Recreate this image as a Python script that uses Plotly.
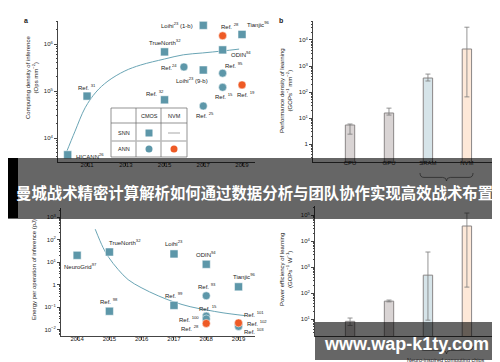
import numpy as np
import plotly.graph_objects as go

W, H = 500, 362
FONT = "Arial, Liberation Sans, Helvetica, sans-serif"
TEAL = "#5d97a9"
ORANGE = "#ee5a25"
AX = "#444444"

# ---------------- data ----------------
# panel a: computing density of inference (Ops mm^-2)
a_snn_year = [2010, 2011, 2015, 2015, 2017, 2017, 2018, 2019]
a_snn_val = [4400, 78000, 680000, 65000, 2.5e6, 280000, 750000, 1.6e6]
a_snn_name = ["HICANN<sup>26</sup>", "Ref. <sup>31</sup>", "TrueNorth<sup>32</sup>", "Ref. <sup>32</sup>",
              "Loihi<sup>23</sup> (1-b)", "Loihi<sup>23</sup> (9-b)", "ODIN<sup>94</sup>", "Tianjic<sup>96</sup>"]
a_cmos_year = [2016, 2017, 2018, 2018]
a_cmos_val = [325000, 48000, 240000, 120000]
a_cmos_name = ["Ref.<sup>24</sup>", "Ref. <sup>25</sup>", "Ref. <sup>95</sup>", "Ref. <sup>15</sup>"]
a_nvm_year = [2018, 2019]
a_nvm_val = [1.5e6, 135000]
a_nvm_name = ["Ref. <sup>28</sup>", "Ref. <sup>19</sup>"]
a_fit_year = [2009.92, 2010.38, 2010.9, 2011.46, 2012.08, 2012.95, 2013.77, 2015.0, 2015.97, 2016.95, 2017.97, 2018.85]
a_fit_val = [4800, 14000, 44000, 95000, 163000, 267000, 358000, 480000, 590000, 645000, 710000, 780000]
a_xticks = [2011, 2013, 2015, 2017, 2019]

# panel b / d: bars
chips = ["CPU", "GPU", "SRAM", "NVM"]
b_val = [5.4, 15.6, 345, 4500]
b_hi = [5.9, 24, 490, 31000]
b_lo = [2.4, 13, 265, 65]
d_val = [8.2, 49, 490, 38000]
d_hi = [11, 54, 3800, 120000]
d_lo = [5.7, 46, 9.1, 170]
bar_fill = ["#d9d4d4", "#d9d4d4", "#d6e4e9", "#fde8d8"]

# panel c: energy per operation of inference (pJ)
c_snn_year = [2014, 2015, 2015, 2017, 2017, 2018, 2019]
c_snn_val = [20, 28, 0.066, 23, 0.12, 8, 0.8]
c_snn_name = ["NeuroGrid<sup>97</sup>", "TrueNorth<sup>32</sup>", "Ref. <sup>98</sup>", "Loihi<sup>23</sup>",
              "Ref. <sup>99</sup>", "ODIN<sup>94</sup>", "Tianjic<sup>96</sup>"]
c_cmos_year = [2018, 2018, 2018, 2019, 2019]
c_cmos_val = [0.32, 0.04, 0.03, 0.018, 0.014]
c_cmos_name = ["Ref. <sup>93</sup>", "Ref. <sup>15</sup>", "Ref. <sup>100</sup>", "Ref. <sup>101</sup>", "Ref. <sup>103</sup>"]
c_nvm_year = [2018, 2019]
c_nvm_val = [0.019, 0.020]
c_nvm_name = ["Ref. <sup>28</sup>", "Ref. <sup>102</sup>"]
c_fit_year = [2014.56, 2014.8, 2014.98, 2015.27, 2015.58, 2015.98, 2016.51, 2017.0, 2017.5, 2017.99, 2018.52, 2019.2]
c_fit_val = [288, 45, 16, 4.7, 1.66, 0.74, 0.32, 0.17, 0.105, 0.076, 0.056, 0.042]
c_xticks = [2014, 2015, 2016, 2017, 2018, 2019]

# label placements (pixel offsets: dx, dy up, anchor)
a_snn_off = [(6, -1, "left"), (0, 9, "center"), (0, 10, "center"), (-10, 7, "center"),
             (-8, 0, "right"), (-11, -10, "center"), (6, -4, "left"), (3, 10, "left")]
a_cmos_off = [(-5, 0, "right"), (2, -9, "center"), (11, 8, "center"), (1, -9, "center")]
a_nvm_off = [(7, 10, "center"), (4, -9, "center")]
c_snn_off = [(3, -11, "center"), (-2, 10, "left"), (0, 10, "center"), (0, 11, "center"),
             (0, 10, "center"), (0, 10, "center"), (5, 11, "center")]
c_cmos_off = [(1, 10, "center"), (2, 8, "center"), (-5, 0, "right"), (3, 10, "left"), (3, -5, "left")]
c_nvm_off = [(-5, -5, "right"), (6, 0, "left")]


def X(px):
    return px / W


def Y(py):
    return 1 - py / H


def minor_vals(lo, hi):
    return [m * 10.0 ** k for k in range(lo, hi) for m in range(2, 10)]


def sup(k):
    return "1" if k == 0 else "10<sup>%d</sup>" % k if k > 0 else "10<sup>\u2212%d</sup>" % (-k)


fig = go.Figure()

# ---- panel a traces
fig.add_trace(go.Scatter(x=a_fit_year, y=a_fit_val, mode="lines", line=dict(color="#6aa5b5", width=1, shape="spline"),
                         xaxis="x", yaxis="y", hoverinfo="skip"))
fig.add_trace(go.Scatter(x=a_snn_year, y=a_snn_val, mode="markers",
                         marker=dict(symbol="square", size=8, color=TEAL, line=dict(color="white", width=0.5)),
                         xaxis="x", yaxis="y"))
fig.add_trace(go.Scatter(x=a_cmos_year, y=a_cmos_val, mode="markers",
                         marker=dict(symbol="circle", size=8, color=TEAL, line=dict(color="white", width=0.5)),
                         xaxis="x", yaxis="y"))
fig.add_trace(go.Scatter(x=a_nvm_year, y=a_nvm_val, mode="markers",
                         marker=dict(symbol="circle", size=8, color=ORANGE, line=dict(color="white", width=0.5)),
                         xaxis="x", yaxis="y"))

# ---- panel c traces
fig.add_trace(go.Scatter(x=c_fit_year, y=c_fit_val, mode="lines", line=dict(color="#6aa5b5", width=1, shape="spline"),
                         xaxis="x3", yaxis="y3", hoverinfo="skip"))
fig.add_trace(go.Scatter(x=c_snn_year, y=c_snn_val, mode="markers",
                         marker=dict(symbol="square", size=8, color=TEAL, line=dict(color="white", width=0.5)),
                         xaxis="x3", yaxis="y3"))
fig.add_trace(go.Scatter(x=c_cmos_year, y=c_cmos_val, mode="markers",
                         marker=dict(symbol="circle", size=8, color=TEAL, line=dict(color="white", width=0.5)),
                         xaxis="x3", yaxis="y3"))
fig.add_trace(go.Scatter(x=c_nvm_year, y=c_nvm_val, mode="markers",
                         marker=dict(symbol="circle", size=8, color=ORANGE, line=dict(color="white", width=0.5)),
                         xaxis="x3", yaxis="y3"))

# ---- bar panels
for vals, hi, lo, xa, ya in [(b_val, b_hi, b_lo, "x2", "y2"), (d_val, d_hi, d_lo, "x4", "y4")]:
    fig.add_trace(go.Bar(x=chips, y=vals, width=0.24, marker=dict(color=bar_fill, line=dict(color="#8a8686", width=1)),
                         error_y=dict(type="data", symmetric=False,
                                      array=[h - v for h, v in zip(hi, vals)],
                                      arrayminus=[v - l for v, l in zip(vals, lo)],
                                      color="#7a7a7a", thickness=0.8, width=2.5),
                         xaxis=xa, yaxis=ya))

base_ax = dict(showline=True, linecolor=AX, linewidth=0.8, ticks="outside", ticklen=3, tickwidth=0.7,
               tickcolor=AX, showgrid=False, zeroline=False, tickfont=dict(size=6, color="#222", family=FONT))

def log_axis(domain, rng, kmin, kmax):
    d = dict(base_ax, type="log", domain=domain, range=rng,
             tickvals=[10.0 ** k for k in range(kmin, kmax + 1)],
             ticktext=[sup(k) for k in range(kmin, kmax + 1)],
             minor=dict(tickvals=minor_vals(kmin - 1, kmax + 1), ticks="outside", ticklen=1.6,
                        tickcolor=AX, tickwidth=0.5))
    return d

fig.update_layout(
    width=W, height=H, margin=dict(l=0, r=0, t=0, b=0), showlegend=False,
    paper_bgcolor="white", plot_bgcolor="white", font=dict(family=FONT, size=6, color="#222"),
    xaxis=dict(base_ax, domain=[X(50), X(247)], range=[2009.5, 2019.67], tickvals=a_xticks, anchor="y",
               ticklabelstandoff=-6),
    yaxis=dict(log_axis([Y(154), Y(13)], [3.49, 6.49], 4, 6), anchor="x"),
    xaxis2=dict(base_ax, domain=[X(305), X(485)], range=[-0.95, 3.67], ticks="", anchor="y2",
                ticklabelstandoff=-5),
    yaxis2=dict(log_axis([Y(154), Y(13)], [-0.69, 4.73], 0, 4), anchor="x2"),
    xaxis3=dict(base_ax, domain=[X(53), X(247)], range=[2013.5, 2019.51], tickvals=c_xticks, anchor="y3",
                ticklabelstandoff=-6),
    yaxis3=dict(log_axis([Y(328), Y(200)], [-2.28, 3.4], -2, 3), anchor="x3"),
    xaxis4=dict(base_ax, domain=[X(307), X(485)], range=[-0.9, 3.67], ticks="", anchor="y4",
                showticklabels=False),
    yaxis4=dict(log_axis([Y(328), Y(198)], [0.35, 5.35], 1, 5), anchor="x4"),
)

ann = []

def point_labels(xs, vs, names, offs, xr, yr):
    for x, v, n, (dx, dy, anc) in zip(xs, vs, names, offs):
        ann.append(dict(x=x, y=np.log10(v), xref=xr, yref=yr, text=n, showarrow=False,
                        xanchor=anc, yanchor="middle", xshift=dx, yshift=dy,
                        font=dict(size=6, color="#222", family=FONT)))

point_labels(a_snn_year, a_snn_val, a_snn_name, a_snn_off, "x", "y")
point_labels(a_cmos_year, a_cmos_val, a_cmos_name, a_cmos_off, "x", "y")
point_labels(a_nvm_year, a_nvm_val, a_nvm_name, a_nvm_off, "x", "y")
point_labels(c_snn_year, c_snn_val, c_snn_name, c_snn_off, "x3", "y3")
point_labels(c_cmos_year, c_cmos_val, c_cmos_name, c_cmos_off, "x3", "y3")
point_labels(c_nvm_year, c_nvm_val, c_nvm_name, c_nvm_off, "x3", "y3")

def ptext(px, py, text, size=6, angle=0, color="#222", bold=False, family=FONT, anchor="center"):
    if bold:
        text = "<b>%s</b>" % text
    ann.append(dict(x=X(px), y=Y(py), xref="paper", yref="paper", text=text, showarrow=False,
                    xanchor=anchor, yanchor="middle", textangle=angle, borderpad=0,
                    font=dict(size=size, color=color, family=family)))

# panel letters
ptext(18, 13, "a", size=7, bold=True)
ptext(273, 13, "b", size=7, bold=True)

# axis titles
ptext(24, 70, "Computing density of inference<br>(Ops mm<sup>\u22122</sup>)", angle=-90)
ptext(278, 83, "Performance density of learning<br>(GOPs<sup>\u22121</sup> mm<sup>\u22122</sup>)", angle=-90)
ptext(26, 262, "Energy per operation of inference (pJ)", angle=-90)
ptext(278, 262, "Power efficiency of learning<br>(GOPs<sup>\u22121</sup> W<sup>\u22121</sup>)", angle=-90)

# legend table text
ptext(141, 108, "CMOS", size=5.5)
ptext(166, 108, "NVM", size=5.5)
ptext(116, 125, "SNN", size=5.5)
ptext(116, 141, "ANN", size=5.5)

# brace label panel d
ptext(438, 352, "Neuro-inspired computing chips", size=5.5)

# overlay texts
ptext(246, 184, "曼城战术精密计算解析如何通过数据分析与团队协作实现高效战术布置", size=15.4, color="white",
      bold=True, family="Noto Sans CJK SC, sans-serif")
ptext(398, 336, "www.wap-k1ty.com", size=18, color="white", bold=True,
      family="Arial, Liberation Sans, sans-serif")

fig.update_layout(annotations=ann)

shapes = []

def rect(x0, y0, x1, y1, **kw):
    shapes.append(dict(type="rect", xref="paper", yref="paper", x0=X(x0), x1=X(x1), y0=Y(y1), y1=Y(y0),
                       layer="above", **kw))

def line(x0, y0, x1, y1, color, width):
    shapes.append(dict(type="line", xref="paper", yref="paper", x0=X(x0), x1=X(x1), y0=Y(y0), y1=Y(y1),
                       line=dict(color=color, width=width), layer="above"))

# legend table grid
rect(103, 100, 179, 149, line=dict(color="#666", width=0.7), fillcolor="rgba(255,255,255,1)")
line(128, 100, 128, 149, "#666", 0.7)
line(153, 100, 153, 149, "#666", 0.7)
line(103, 115, 179, 115, "#666", 0.7)
line(103, 133, 179, 133, "#bbbbbb", 1.6)
rect(137.5, 121.5, 144.5, 128.5, line=dict(width=0), fillcolor=TEAL)
line(160, 125, 172, 125, "#c4c4c4", 1.5)
shapes.append(dict(type="circle", xref="paper", yref="paper", x0=X(137.5), x1=X(144.5), y0=Y(144.5), y1=Y(137.5),
                   fillcolor=TEAL, line=dict(width=0), layer="above"))
shapes.append(dict(type="circle", xref="paper", yref="paper", x0=X(162.5), x1=X(169.5), y0=Y(144.5), y1=Y(137.5),
                   fillcolor=ORANGE, line=dict(width=0), layer="above"))

def brace(x0, x1, ytop, depth):
    xm = (x0 + x1) / 2
    ym = ytop + depth * 0.55
    yb = ytop + depth
    pts = "M %f,%f Q %f,%f %f,%f L %f,%f Q %f,%f %f,%f Q %f,%f %f,%f L %f,%f Q %f,%f %f,%f" % (
        X(x0), Y(ytop), X(x0), Y(ym), X(x0 + 4), Y(ym), X(xm - 4), Y(ym), X(xm), Y(ym), X(xm), Y(yb),
        X(xm), Y(ym), X(xm + 4), Y(ym), X(x1 - 4), Y(ym), X(x1), Y(ym), X(x1), Y(ytop))
    shapes.append(dict(type="path", xref="paper", yref="paper", path=pts, line=dict(color="#555", width=0.7),
                       layer="above"))

brace(412, 465, 165, 8)
brace(412, 465, 338, 8)

# overlay bands
rect(0, 150, 500, 211, line=dict(width=0), fillcolor="rgba(0,0,0,0.6)")
rect(0, 150, 10, 210, line=dict(width=0), fillcolor="black")
rect(489, 150, 500, 211, line=dict(width=0), fillcolor="black")
rect(307, 314, 489, 352, line=dict(width=0), fillcolor="rgba(0,0,0,0.6)")
rect(487, 314, 490, 352, line=dict(width=0), fillcolor="black")

fig.update_layout(shapes=shapes)
fig.write_html("out.html")
